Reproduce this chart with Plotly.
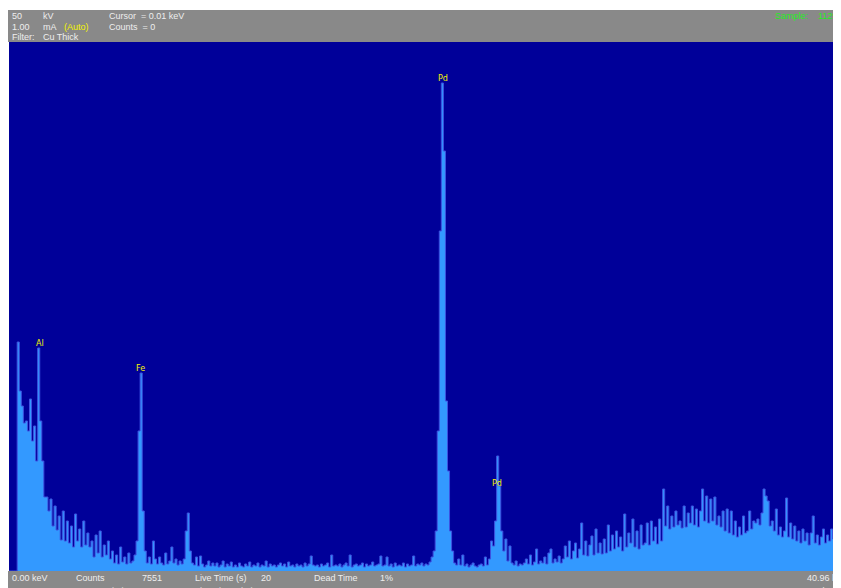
import numpy as np
import plotly.graph_objects as go

# ---------------- data (counts per 0.1 keV channel) -------------
bin_kev = 0.1
counts_00_10 = [
    0, 0, 0, 0, 229, 180, 165, 148, 150, 140,
    172, 130, 145, 110, 223, 150, 110, 74, 74, 60,
    72, 45, 65, 41, 55, 31, 60, 30, 50, 28,
    45, 24, 57, 30, 42, 24, 50, 26, 38, 24,
    30, 14, 36, 18, 40, 14, 26, 16, 30, 12,
    20, 8, 16, 7, 24, 9, 14, 7, 18, 8,
    10, 16, 30, 140, 198, 60, 20, 8, 14, 7,
    30, 12, 7, 14, 8, 6, 18, 7, 10, 24,
    8, 12, 6, 10, 7, 12, 40, 58, 20, 8,
    6, 14, 5, 15, 7, 4, 6, 10, 5, 8,
]
counts_10_20 = [
    5, 8, 4, 6, 10, 4, 7, 5, 9, 4,
    6, 4, 8, 5, 4, 7, 5, 9, 4, 6,
    5, 8, 4, 6, 5, 10, 4, 7, 5, 6,
    4, 6, 8, 5, 7, 4, 9, 5, 6, 4,
    7, 5, 6, 4, 8, 5, 7, 15, 6, 5,
    6, 4, 7, 5, 6, 8, 4, 16, 5, 6,
    5, 7, 4, 6, 8, 5, 16, 4, 6, 7,
    5, 6, 8, 4, 7, 5, 6, 9, 5, 6,
    7, 15, 5, 6, 14, 5, 7, 4, 8, 5,
    6, 5, 8, 4, 7, 5, 6, 15, 5, 7,
]
counts_20_30 = [
    6, 8, 5, 7, 6, 9, 14, 20, 40, 140,
    340, 488, 420, 170, 100, 40, 20, 8, 6, 12,
    6, 16, 5, 7, 4, 6, 8, 5, 4, 6,
    7, 5, 14, 6, 12, 30, 25, 50, 115, 85,
    40, 20, 32, 10, 25, 8, 6, 10, 5, 7,
    6, 8, 12, 7, 16, 6, 9, 22, 7, 10,
    8, 14, 7, 18, 22, 8, 12, 9, 15, 8,
    12, 25, 14, 30, 12, 20, 28, 13, 22, 48,
    16, 30, 15, 26, 35, 16, 42, 18, 28, 17,
    32, 18, 46, 20, 36, 22, 40, 24, 34, 20,
]
counts_30_41 = [
    57, 24, 38, 28, 52, 24, 40, 22, 46, 26,
    28, 48, 26, 50, 30, 44, 27, 52, 30, 82,
    45, 65, 42, 55, 44, 60, 46, 50, 43, 65,
    44, 58, 48, 65, 46, 62, 44, 60, 82, 50,
    75, 48, 72, 50, 74, 46, 55, 44, 60, 40,
    62, 38, 60, 36, 50, 34, 44, 36, 55, 38,
    40, 60, 42, 50, 48, 52, 46, 58, 82, 75,
    70, 45, 50, 40, 62, 36, 44, 34, 40, 73,
    34, 48, 32, 45, 30, 40, 28, 42, 30, 38,
    26, 38, 55, 28, 36, 26, 34, 42, 28, 36,
    30, 42, 32, 36, 30, 34,
]

peak_names = ["Al", "Fe", "Pd", "Pd"]
peak_kev = [1.49, 6.40, 21.18, 23.82]
peak_label_counts = [228, 203, 493, 88]

header_rows = [
    ["50", "kV", "", "Cursor  = 0.01 keV"],
    ["1.00", "mA", "(Auto)", "Counts  = 0"],
    ["Filter:", "Cu Thick", "", ""],
]
footer_row1 = ["0.00 keV", "Counts", "7551", "Live Time (s)", "20", "Dead Time", "1%"]
footer_row2 = ["", "Counts Limit", "0", "Live Time Limit", "20", "", ""]
sample_text = "Sample:    1129"
end_text = "40.96 keV"
end_text2 = "Scale = 400"

# ---------------- figure ----------------
counts = counts_00_10 + counts_10_20 + counts_20_30 + counts_30_41
edges = np.arange(len(counts) + 1) * bin_kev
yvals = counts + [counts[-1]]

OFF = 8                      # browser body margin
VW, VH = 841, 588            # viewport
W, H = VW - OFF, VH - OFF    # figure size
# plot area in page pixels: x 9..841, y 42..571
PL, PT, PB = 9, 42, 571
L, R, T, B = PL - OFF, 0, PT - OFF, VH - PB
PW, PH = W - L - R, H - T - B
KEV_PER_PX = 1 / 20.49


def px(xp):   # page pixel -> paper x
    return (xp - PL) / PW


def py(yp):   # page pixel -> paper y
    return (PB - yp) / PH


BLUE_BG = "#000099"
SPEC = "#3399ff"
GREY = "#898989"
TXT = "#eeeeee"
FONT = "Liberation Sans"
LABEL = "#f4f400"

fig = go.Figure()
fig.add_trace(go.Scatter(
    x=edges, y=yvals, mode="lines", line=dict(shape="hv", color="#3d52e0", width=1),
    fill="tozeroy", fillcolor=SPEC, hoverinfo="skip", showlegend=False,
))

ann = []
for name, kev, c in zip(peak_names, peak_kev, peak_label_counts):
    ann.append(dict(x=kev, y=c, xref="x", yref="y", text=name, showarrow=False,
                    font=dict(family="DejaVu Sans", size=8, color=LABEL),
                    xanchor="center", yanchor="middle"))

hdr_x = [10, 41, 62, 107]
hdr_y = [16, 27, 37]
for row, yy in zip(header_rows, hdr_y):
    for t, xx in zip(row, hdr_x):
        if not t:
            continue
        col = LABEL if t == "(Auto)" else TXT
        ann.append(dict(x=px(xx), y=py(yy), xref="paper", yref="paper", text=t,
                        showarrow=False, xanchor="left", yanchor="middle",
                        font=dict(family=FONT, size=9, color=col)))
ann.append(dict(x=px(773), y=py(16), xref="paper", yref="paper", text=sample_text,
                showarrow=False, xanchor="left", yanchor="middle",
                font=dict(family=FONT, size=9, color="#22ee22")))

ft_x = [10, 74, 140, 193, 259, 312, 378]
for t, xx in zip(footer_row1, ft_x):
    ann.append(dict(x=px(xx), y=py(578), xref="paper", yref="paper", text=t,
                    showarrow=False, xanchor="left", yanchor="middle",
                    font=dict(family=FONT, size=9, color=TXT)))
for t, xx in zip(footer_row2, ft_x):
    if not t:
        continue
    ann.append(dict(x=px(xx), y=py(591), xref="paper", yref="paper", text=t,
                    showarrow=False, xanchor="left", yanchor="middle",
                    font=dict(family=FONT, size=9, color=TXT)))
ann.append(dict(x=px(805), y=py(578), xref="paper", yref="paper", text=end_text,
                showarrow=False, xanchor="left", yanchor="middle",
                font=dict(family=FONT, size=9, color=TXT)))
ann.append(dict(x=px(805), y=py(591), xref="paper", yref="paper", text=end_text2,
                showarrow=False, xanchor="left", yanchor="middle",
                font=dict(family=FONT, size=9, color=TXT)))

shapes = [
    dict(type="rect", xref="paper", yref="paper", x0=px(7), x1=px(VW + 5),
         y0=py(42), y1=py(10), fillcolor=GREY, line=dict(width=0), layer="below"),
    dict(type="rect", xref="paper", yref="paper", x0=px(7), x1=px(VW + 5),
         y0=py(VH + 5), y1=py(571), fillcolor=GREY, line=dict(width=0), layer="below"),
]

fig.update_layout(
    width=W, height=H,
    margin=dict(l=L, r=R, t=T, b=B, pad=0),
    paper_bgcolor="#ffffff", plot_bgcolor=BLUE_BG,
    xaxis=dict(range=[0, PW * KEV_PER_PX], visible=False, fixedrange=True),
    yaxis=dict(range=[0, PH], visible=False, fixedrange=True),
    annotations=ann, shapes=shapes, showlegend=False,
)

fig.write_html(
    "out.html",
    post_script="document.documentElement.style.overflow='hidden';"
                "document.body.style.overflow='hidden';",
)
